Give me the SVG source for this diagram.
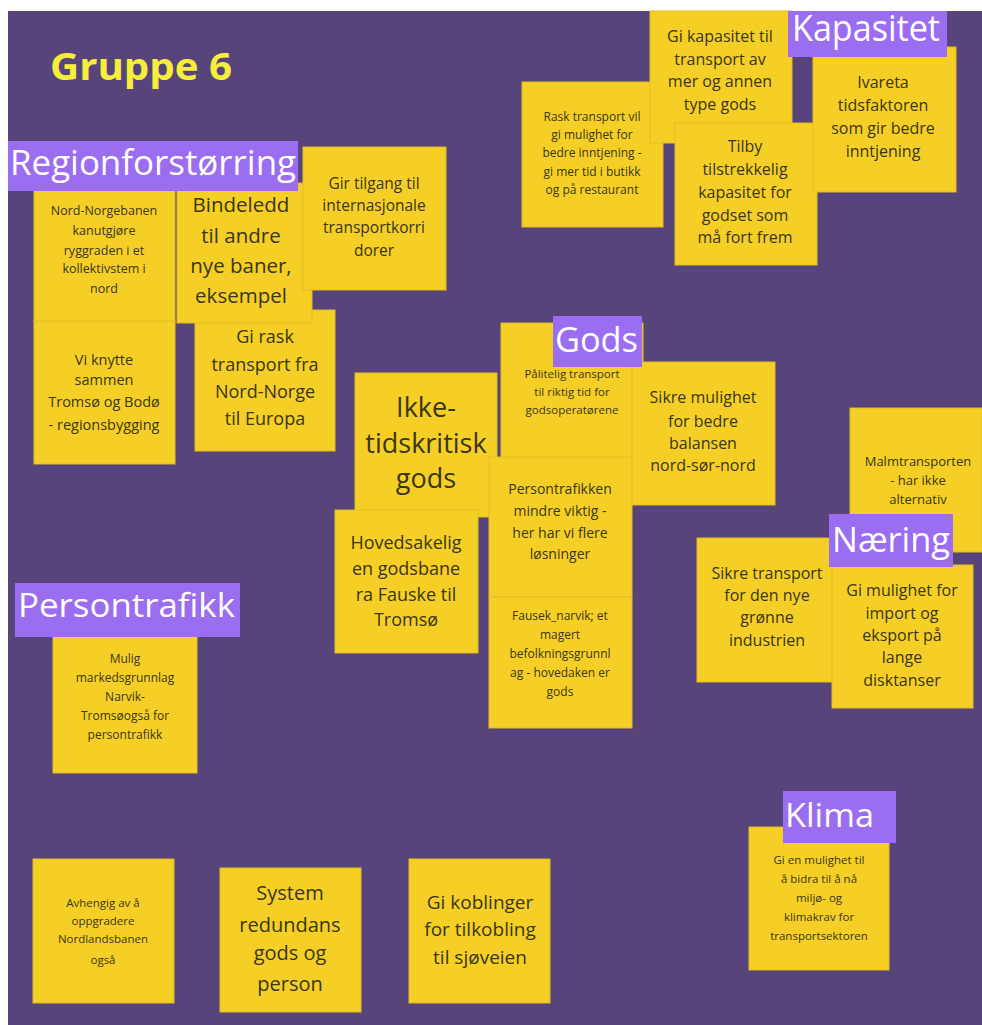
<svg xmlns="http://www.w3.org/2000/svg" width="982" height="1025" viewBox="0 0 982 1025">
<style>
.bg{fill:#56447a}
.note{fill:#f5cf26;stroke:#e3bd1e;stroke-width:1}
.lab{fill:#9b6df0}
.t{font-family:"Open Sans","Noto Sans","Liberation Sans",sans-serif;fill:#3a3612;text-anchor:middle}
.lt{font-family:"Open Sans","Noto Sans","Liberation Sans",sans-serif;fill:#ffffff}
.title{font-family:"Open Sans","Noto Sans","Liberation Sans",sans-serif;font-weight:bold;fill:#f6ee3a}
</style>
<rect x="0" y="0" width="982" height="1025" fill="#ffffff"/>
<rect class="bg" x="8" y="11" width="974" height="1014"/>
<g id="connectors"/>
<text class="title" x="50" y="80" font-size="37" textLength="182" lengthAdjust="spacingAndGlyphs">Gruppe 6</text>

<g id="n-nordnorgebanen">
<rect class="note" x="34" y="186" width="141" height="136"/>
<text class="t" font-size="12.5"><tspan x="104" y="215">Nord-Norgebanen</tspan><tspan x="104" y="235">kanutgjøre</tspan><tspan x="104" y="255">ryggraden i et</tspan><tspan x="104" y="273">kollektivstem i</tspan><tspan x="104" y="293">nord</tspan></text>
</g>
<g id="n-viknytte">
<rect class="note" x="34" y="321" width="141" height="143"/>
<text class="t" font-size="14.5"><tspan x="104" y="365">Vi knytte</tspan><tspan x="104" y="385">sammen</tspan><tspan x="104" y="407">Tromsø og Bodø</tspan><tspan x="104" y="430">- regionsbygging</tspan></text>
</g>
<g id="n-girask">
<rect class="note" x="195" y="310" width="140" height="141"/>
<text class="t" font-size="18"><tspan x="265" y="343">Gi rask</tspan><tspan x="265" y="371">transport fra</tspan><tspan x="265" y="398">Nord-Norge</tspan><tspan x="265" y="425">til Europa</tspan></text>
</g>
<g id="n-bindeledd">
<rect class="note" x="177" y="183" width="135" height="140"/>
<text class="t" font-size="20.5"><tspan x="241" y="212">Bindeledd</tspan><tspan x="241" y="243">til andre</tspan><tspan x="241" y="273">nye baner,</tspan><tspan x="241" y="303">eksempel</tspan></text>
</g>
<g id="n-girtilgang">
<rect class="note" x="303" y="147" width="143" height="143"/>
<text class="t" font-size="15.5"><tspan x="374" y="189">Gir tilgang til</tspan><tspan x="374" y="211">internasjonale</tspan><tspan x="374" y="233">transportkorri</tspan><tspan x="374" y="256">dorer</tspan></text>
</g>
<g id="l-regionforstorring">
<rect class="lab" x="8" y="141" width="290" height="50"/>
<text class="lt" x="10" y="175" font-size="34" textLength="286" lengthAdjust="spacingAndGlyphs">Regionforstørring</text>
</g>

<g id="n-rasktransport">
<rect class="note" x="522" y="82" width="141" height="145"/>
<text class="t" font-size="12"><tspan x="592" y="121">Rask transport vil</tspan><tspan x="592" y="139">gi mulighet for</tspan><tspan x="592" y="157">bedre inntjening -</tspan><tspan x="592" y="176">gi mer tid i butikk</tspan><tspan x="592" y="194">og på restaurant</tspan></text>
</g>
<g id="n-gikapasitet">
<rect class="note" x="650" y="11" width="142" height="132"/>
<text class="t" font-size="16"><tspan x="720" y="42">Gi kapasitet til</tspan><tspan x="720" y="65">transport av</tspan><tspan x="720" y="87">mer og annen</tspan><tspan x="720" y="110">type gods</tspan></text>
</g>
<g id="n-tilby">
<rect class="note" x="675" y="123" width="142" height="142"/>
<text class="t" font-size="16"><tspan x="745" y="152">Tilby</tspan><tspan x="745" y="175">tilstrekkelig</tspan><tspan x="745" y="198">kapasitet for</tspan><tspan x="745" y="221">godset som</tspan><tspan x="745" y="243">må fort frem</tspan></text>
</g>
<g id="n-ivareta">
<rect class="note" x="813" y="47" width="143" height="145"/>
<text class="t" font-size="16"><tspan x="883" y="88">Ivareta</tspan><tspan x="883" y="111">tidsfaktoren</tspan><tspan x="883" y="134">som gir bedre</tspan><tspan x="883" y="157">inntjening</tspan></text>
</g>
<g id="l-kapasitet">
<rect class="lab" x="788" y="11" width="159" height="46"/>
<text class="lt" x="792" y="41" font-size="36" textLength="148" lengthAdjust="spacingAndGlyphs">Kapasitet</text>
</g>

<g id="n-ikketidskritisk">
<rect class="note" x="355" y="373" width="142" height="144"/>
<text class="t" font-size="27"><tspan x="426" y="417">Ikke-</tspan><tspan x="426" y="453">tidskritisk</tspan><tspan x="426" y="488">gods</tspan></text>
</g>
<g id="n-hovedsakelig">
<rect class="note" x="335" y="510" width="143" height="143"/>
<text class="t" font-size="18"><tspan x="406" y="549">Hovedsakelig</tspan><tspan x="406" y="575">en godsbane</tspan><tspan x="406" y="601">ra Fauske til</tspan><tspan x="406" y="626">Tromsø</tspan></text>
</g>
<g id="n-palitelig">
<rect class="note" x="501" y="323" width="142" height="142"/>
<text class="t" font-size="11.5"><tspan x="572" y="378">Pålitelig transport</tspan><tspan x="572" y="396">til riktig tid for</tspan><tspan x="572" y="414">godsoperatørene</tspan></text>
</g>
<g id="n-persontrafikken">
<rect class="note" x="489" y="457" width="143" height="140"/>
<text class="t" font-size="14"><tspan x="560" y="494">Persontrafikken</tspan><tspan x="560" y="516">mindre viktig -</tspan><tspan x="560" y="538">her har vi flere</tspan><tspan x="560" y="559">løsninger</tspan></text>
</g>
<g id="n-fausek">
<rect class="note" x="489" y="597" width="143" height="131"/>
<text class="t" font-size="12"><tspan x="560" y="620">Fausek_narvik; et</tspan><tspan x="560" y="639">magert</tspan><tspan x="560" y="658">befolkningsgrunnl</tspan><tspan x="560" y="677">ag - hovedaken er</tspan><tspan x="560" y="696">gods</tspan></text>
</g>
<g id="n-sikremulighet">
<rect class="note" x="632" y="362" width="143" height="143"/>
<text class="t" font-size="16"><tspan x="703" y="403">Sikre mulighet</tspan><tspan x="703" y="427">for bedre</tspan><tspan x="703" y="449">balansen</tspan><tspan x="703" y="471">nord-sør-nord</tspan></text>
</g>
<g id="l-gods">
<rect class="lab" x="553" y="316" width="89" height="51"/>
<text class="lt" x="555" y="352" font-size="35" textLength="83" lengthAdjust="spacingAndGlyphs">Gods</text>
</g>

<g id="n-malmtransporten">
<rect class="note" x="850" y="408" width="132" height="144"/>
<text class="t" font-size="13"><tspan x="918" y="466">Malmtransporten</tspan><tspan x="918" y="485">- har ikke</tspan><tspan x="918" y="504">alternativ</tspan></text>
</g>
<g id="n-sikretransport">
<rect class="note" x="697" y="538" width="142" height="144"/>
<text class="t" font-size="16"><tspan x="767" y="579">Sikre transport</tspan><tspan x="767" y="601">for den nye</tspan><tspan x="767" y="623">grønne</tspan><tspan x="767" y="646">industrien</tspan></text>
</g>
<g id="n-gimulighet">
<rect class="note" x="832" y="565" width="141" height="143"/>
<text class="t" font-size="16"><tspan x="902" y="596">Gi mulighet for</tspan><tspan x="902" y="619">import og</tspan><tspan x="902" y="641">eksport på</tspan><tspan x="902" y="663">lange</tspan><tspan x="902" y="686">disktanser</tspan></text>
</g>
<g id="l-naering">
<rect class="lab" x="829" y="514" width="124" height="53"/>
<text class="lt" x="832" y="552" font-size="35" textLength="118" lengthAdjust="spacingAndGlyphs">Næring</text>
</g>

<g id="n-mulig">
<rect class="note" x="53" y="635" width="144" height="138"/>
<text class="t" font-size="12"><tspan x="125" y="663">Mulig</tspan><tspan x="125" y="682">markedsgrunnlag</tspan><tspan x="125" y="701">Narvik-</tspan><tspan x="125" y="720">Tromsøogså for</tspan><tspan x="125" y="739">persontrafikk</tspan></text>
</g>
<g id="l-persontrafikk">
<rect class="lab" x="15" y="583" width="225" height="54"/>
<text class="lt" x="18" y="617" font-size="33" textLength="217" lengthAdjust="spacingAndGlyphs">Persontrafikk</text>
</g>

<g id="n-avhengig">
<rect class="note" x="33" y="859" width="141" height="144"/>
<text class="t" font-size="11.5"><tspan x="103" y="907">Avhengig av å</tspan><tspan x="103" y="925">oppgradere</tspan><tspan x="103" y="943">Nordlandsbanen</tspan><tspan x="103" y="964">også</tspan></text>
</g>
<g id="n-system">
<rect class="note" x="220" y="868" width="141" height="144"/>
<text class="t" font-size="20"><tspan x="290" y="900">System</tspan><tspan x="290" y="932">redundans</tspan><tspan x="290" y="960">gods og</tspan><tspan x="290" y="991">person</tspan></text>
</g>
<g id="n-gikoblinger">
<rect class="note" x="409" y="859" width="141" height="144"/>
<text class="t" font-size="19"><tspan x="480" y="909">Gi koblinger</tspan><tspan x="480" y="936">for tilkobling</tspan><tspan x="480" y="964">til sjøveien</tspan></text>
</g>
<g id="n-klima">
<rect class="note" x="749" y="827" width="140" height="143"/>
<text class="t" font-size="11.5"><tspan x="819" y="864">Gi en mulighet til</tspan><tspan x="819" y="883">å bidra til å nå</tspan><tspan x="819" y="902">miljø- og</tspan><tspan x="819" y="921">klimakrav for</tspan><tspan x="819" y="940">transportsektoren</tspan></text>
</g>
<g id="l-klima">
<rect class="lab" x="783" y="791" width="113" height="52"/>
<text class="lt" x="785" y="827" font-size="32" textLength="89" lengthAdjust="spacingAndGlyphs">Klima</text>
</g>
</svg>
